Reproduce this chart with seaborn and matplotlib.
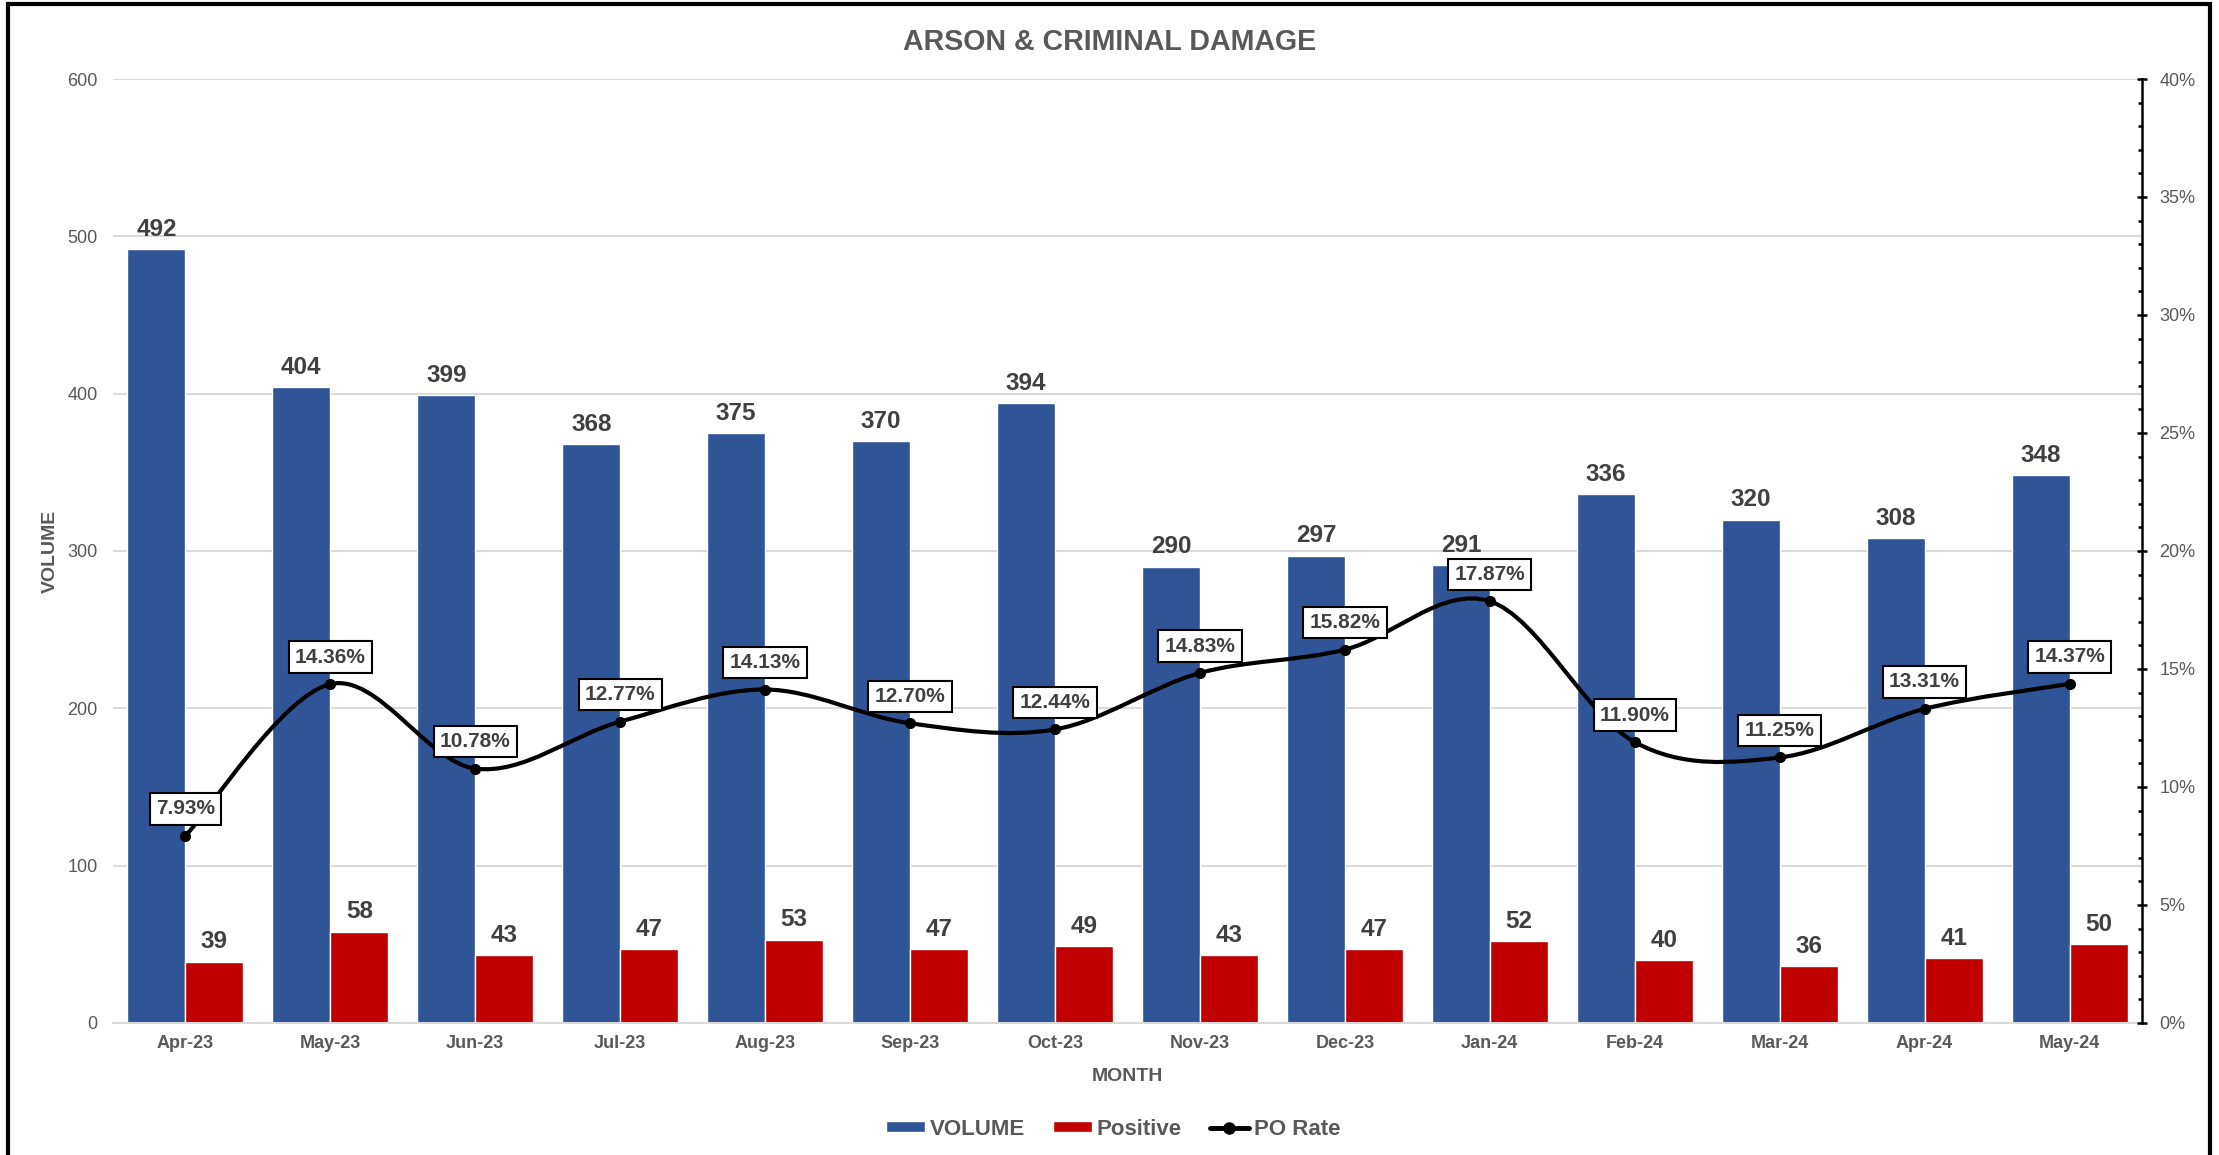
import matplotlib
matplotlib.use("Agg")
import matplotlib.pyplot as plt
import pandas as pd
import seaborn as sns
from matplotlib.lines import Line2D
from matplotlib.patches import Patch, PathPatch, Rectangle
from matplotlib.path import Path
from matplotlib.ticker import MultipleLocator, PercentFormatter


# chart data
months = ["Apr-23", "May-23", "Jun-23", "Jul-23", "Aug-23", "Sep-23", "Oct-23",
          "Nov-23", "Dec-23", "Jan-24", "Feb-24", "Mar-24", "Apr-24", "May-24"]
volume = [492, 404, 399, 368, 375, 370, 394, 290, 297, 291, 336, 320, 308, 348]
positive = [39, 58, 43, 47, 53, 47, 49, 43, 47, 52, 40, 36, 41, 50]
po_rate = [7.93, 14.36, 10.78, 12.77, 14.13, 12.70, 12.44,
           14.83, 15.82, 17.87, 11.90, 11.25, 13.31, 14.37]

BLUE = "#2F5597"
RED = "#C00000"
GREY = "#595959"
DARK = "#404040"

sns.set_style("white")
plt.rcParams["font.family"] = ["Liberation Sans", "DejaVu Sans"]

df = pd.DataFrame({
    "MONTH": months * 2,
    "value": volume + positive,
    "series": ["VOLUME"] * len(months) + ["Positive"] * len(months),
})

fig = plt.figure(figsize=(22.19, 11.55), dpi=100)
ax = fig.add_axes([0.0509, 0.1143, 0.9144, 0.8173])

sns.barplot(data=df, x="MONTH", y="value", hue="series",
            palette={"VOLUME": BLUE, "Positive": RED}, width=0.8,
            saturation=1, legend=False, ax=ax)

for cont in ax.containers:
    ax.bar_label(cont, padding=6, fontsize=17.5, fontweight="bold", color=DARK)

ax.set_xlim(-0.5, len(months) - 0.5)
ax.set_ylim(0, 600)
ax.yaxis.set_major_locator(MultipleLocator(100))
ax.yaxis.grid(True, color="#D9D9D9", linewidth=1.5)
ax.set_axisbelow(True)
for side in ["top", "left", "right"]:
    ax.spines[side].set_visible(False)
ax.spines["bottom"].set_color("#D9D9D9")
ax.spines["bottom"].set_linewidth(1.5)
ax.tick_params(axis="y", length=0, pad=11, labelsize=13, labelcolor=GREY)
ax.tick_params(axis="x", length=0, pad=9, labelsize=13, labelcolor=GREY)
for lbl in ax.get_xticklabels():
    lbl.set_fontweight("bold")
ax.set_xlabel("MONTH", fontsize=14, fontweight="bold", color=GREY, labelpad=11)
ax.set_ylabel("VOLUME", fontsize=14, fontweight="bold", color=GREY, labelpad=6)

# secondary axis for the rate
ax2 = ax.twinx()
ax2.set_ylim(0, 40)
ax2.yaxis.set_major_locator(MultipleLocator(5))
ax2.yaxis.set_minor_locator(MultipleLocator(1))
ax2.yaxis.set_major_formatter(PercentFormatter(100, decimals=0))
for side in ["top", "left", "bottom"]:
    ax2.spines[side].set_visible(False)
ax2.spines["right"].set_color("black")
ax2.spines["right"].set_linewidth(1.8)
ax2.tick_params(axis="y", which="major", direction="inout", length=7, width=1.8,
                pad=9, labelsize=13, labelcolor=GREY, color="black")
ax2.tick_params(axis="y", which="minor", direction="in", length=3, width=1.8,
                color="black")

# smoothed line (bezier through the points, like excel's smooth line)
xs = list(range(len(months)))
n = len(xs)
verts = [(xs[0], po_rate[0])]
codes = [Path.MOVETO]
for i in range(n - 1):
    i0, i3 = max(i - 1, 0), min(i + 2, n - 1)
    x0, y0 = xs[i0], po_rate[i0]
    x1, y1 = xs[i], po_rate[i]
    x2, y2 = xs[i + 1], po_rate[i + 1]
    x3, y3 = xs[i3], po_rate[i3]
    c1 = (x1 + (x2 - x0) / 6, y1 + (y2 - y0) / 6)
    c2 = (x2 - (x3 - x1) / 6, y2 - (y3 - y1) / 6)
    verts += [c1, c2, (x2, y2)]
    codes += [Path.CURVE4] * 3
ax2.add_patch(PathPatch(Path(verts, codes), fill=False, edgecolor="black",
                        linewidth=3, capstyle="round"))
ax2.plot(xs, po_rate, linestyle="none", marker="o", color="black", markersize=7)

for x, v in zip(xs, po_rate):
    ax2.annotate(f"{v:.2f}%", (x, v), xytext=(0, 27), textcoords="offset pixels",
                 ha="center", va="center", fontsize=15, fontweight="bold",
                 color=DARK,
                 bbox=dict(boxstyle="square,pad=0.3", fc="white", ec="black", lw=1.5))

fig.suptitle("ARSON & CRIMINAL DAMAGE", x=0.5, y=0.976, fontsize=20.6,
             fontweight="bold", color=GREY)

handles = [
    Patch(facecolor=BLUE, label="VOLUME"),
    Patch(facecolor=RED, label="Positive"),
    Line2D([0], [0], color="black", linewidth=3.5, marker="o", markersize=8,
           label="PO Rate"),
]
leg = fig.legend(handles=handles, loc="center", bbox_to_anchor=(0.5016, 0.0225),
                 ncol=3, frameon=False, fontsize=16, handlelength=1.75,
                 handleheight=0.4, columnspacing=1.25, handletextpad=0.23)
for t in leg.get_texts():
    t.set_color(GREY)
    t.set_fontweight("bold")

# outer frame of the screenshot
fig.patches.append(Rectangle((0.0035, -0.05), 0.9925, 1.0465, transform=fig.transFigure,
                             fill=False, edgecolor="black", linewidth=3))

fig.savefig("out.png", dpi=100)
